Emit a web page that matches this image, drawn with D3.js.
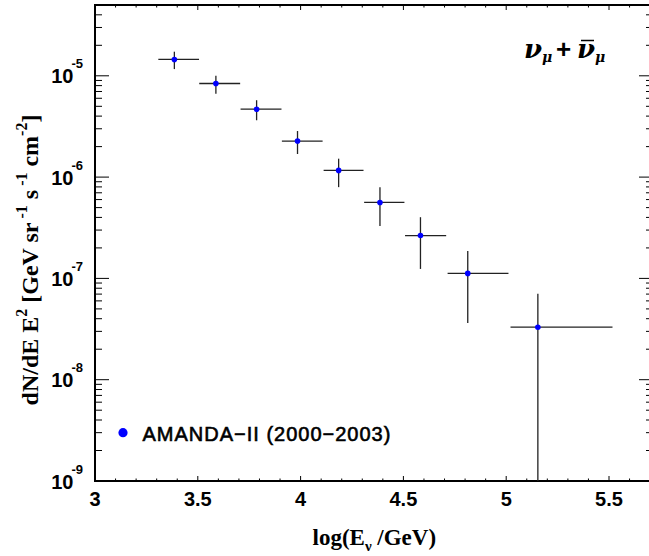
<!DOCTYPE html>
<html>
<head>
<meta charset="utf-8">
<script src="https://cdn.jsdelivr.net/npm/d3@7"></script>
<style>
  body { margin: 0; background: #fff; }
</style>
</head>
<body>
<script>
const svgWidth = 649;
const svgHeight = 556;

// log10(E/GeV) of each point and its bin edges
const logE = [3.386, 3.588, 3.786, 3.985, 4.185, 4.386, 4.583, 4.813, 5.154];
const logELow = [3.308, 3.507, 3.708, 3.909, 4.112, 4.309, 4.508, 4.715, 5.021];
const logEHigh = [3.506, 3.706, 3.907, 4.107, 4.306, 4.505, 4.708, 5.011, 5.517];

// E^2 dN/dE [GeV sr^-1 s^-1 cm^-2]
const flux = [1.45e-5, 8.4e-6, 4.68e-6, 2.27e-6, 1.165e-6, 5.62e-7, 2.65e-7, 1.12e-7, 3.3e-8];
const fluxHigh = [1.73e-5, 1.0e-5, 5.74e-6, 2.85e-6, 1.52e-6, 7.96e-7, 4.02e-7, 1.86e-7, 7.05e-8];
const fluxLow = [1.165e-5, 6.64e-6, 3.64e-6, 1.69e-6, 7.96e-7, 3.3e-7, 1.24e-7, 3.63e-8, 1e-10];

const xTickLabels = ['3', '3.5', '4', '4.5', '5', '5.5'];
const yTickExponents = [-9, -8, -7, -6, -5];
const legendLabel = 'AMANDA\u2212II (2000\u22122003)';

const plotLeft = 95, plotRight = 653, plotTop = 5, plotBottom = 481;

const svg = d3.select('body')
              .append('svg')
              .attr('width', svgWidth)
              .attr('height', svgHeight);

const x = d3.scaleLinear()
            .domain([3, 3 + (plotRight - plotLeft) / 205.6])
            .range([plotLeft, plotRight]);

const y = d3.scaleLog()
            .domain([1e-9, 5e-5])
            .range([plotBottom, plotTop])
            .clamp(true);

const points = logE.map((e, i) => ({
  e: e, lo: logELow[i], hi: logEHigh[i],
  f: flux[i], fLo: fluxLow[i], fHi: fluxHigh[i]
}));

// frame
svg.append('rect')
   .attr('x', plotLeft).attr('y', plotTop)
   .attr('width', plotRight - plotLeft).attr('height', plotBottom - plotTop)
   .attr('fill', 'none')
   .attr('stroke', '#000')
   .attr('stroke-width', 2);

// x ticks (bottom and top)
const xTicks = d3.range(30, 58).map(d => d / 10).filter(d => x(d) <= plotRight);
const isMajorX = d => Math.round(d * 10) % 5 === 0;
[plotBottom, plotTop].forEach((y0, k) => {
  svg.append('g').selectAll('line')
     .data(xTicks)
     .enter().append('line')
     .attr('x1', d => x(d)).attr('x2', d => x(d))
     .attr('y1', y0)
     .attr('y2', d => y0 + (k === 0 ? -1 : 1) * (isMajorX(d) ? 5 : 2.5))
     .attr('stroke', '#000')
     .attr('stroke-width', 1);
});

svg.append('g').selectAll('text')
   .data(xTickLabels)
   .enter().append('text')
   .attr('x', d => x(+d))
   .attr('y', 505.5)
   .attr('text-anchor', 'middle')
   .attr('font-family', 'Liberation Sans, Arial, sans-serif')
   .attr('font-weight', 'bold')
   .attr('font-size', 20)
   .text(d => d);

// y ticks (left and right)
const yTicks = y.ticks();
const isMajorY = d => Math.abs(Math.log10(d) - Math.round(Math.log10(d))) < 1e-6;
[plotLeft, plotRight].forEach((x0, k) => {
  svg.append('g').selectAll('line')
     .data(yTicks)
     .enter().append('line')
     .attr('x1', x0)
     .attr('x2', d => x0 + (k === 0 ? 1 : -1) * (isMajorY(d) ? 14 : 7))
     .attr('y1', d => y(d)).attr('y2', d => y(d))
     .attr('stroke', '#000')
     .attr('stroke-width', 1);
});

const yLabels = svg.append('g').selectAll('text')
   .data(yTickExponents)
   .enter().append('text')
   .attr('x', 83)
   .attr('y', d => y(Math.pow(10, d)) + 7.5)
   .attr('text-anchor', 'end')
   .attr('font-family', 'Liberation Sans, Arial, sans-serif')
   .attr('font-weight', 'bold');
yLabels.append('tspan').attr('font-size', 20).text('10');
yLabels.append('tspan').attr('font-size', 13).attr('dx', -2).attr('dy', -15).text(d => '-' + Math.abs(d));

// error bars
const bars = svg.append('g')
                .attr('stroke', '#222')
                .attr('stroke-width', 1.3);

bars.selectAll('.h')
    .data(points)
    .enter().append('line')
    .attr('x1', d => x(d.lo)).attr('x2', d => x(d.hi))
    .attr('y1', d => y(d.f)).attr('y2', d => y(d.f));

bars.selectAll('.v')
    .data(points)
    .enter().append('line')
    .attr('x1', d => x(d.e)).attr('x2', d => x(d.e))
    .attr('y1', d => y(d.fHi)).attr('y2', d => y(d.fLo));

svg.append('g').selectAll('circle')
   .data(points)
   .enter().append('circle')
   .attr('cx', d => x(d.e))
   .attr('cy', d => y(d.f))
   .attr('r', 2.8)
   .attr('fill', '#0000ff');

// legend
svg.append('circle')
   .attr('cx', 123).attr('cy', 432.7)
   .attr('r', 4.6)
   .attr('fill', '#0000ff');

svg.append('text')
   .attr('x', 142.5).attr('y', 440.5)
   .attr('font-family', 'Liberation Sans, Arial, sans-serif')
   .attr('font-size', 20)
   .attr('letter-spacing', 1)
   .attr('stroke', '#000')
   .attr('stroke-width', 0.6)
   .text(legendLabel);

// nu_mu + anti-nu_mu
const nu = svg.append('text')
              .attr('y', 58)
              .attr('font-family', 'DejaVu Serif, serif')
              .attr('font-style', 'italic')
              .attr('font-weight', 'bold')
              .attr('font-size', 26);
nu.append('tspan').attr('x', 524).text('\u03bd');
nu.append('tspan').attr('x', 542).attr('dy', 4).attr('font-size', 14).text('\u03bc');
nu.append('tspan').attr('x', 556).attr('dy', -4)
  .attr('font-family', 'Liberation Sans, Arial, sans-serif')
  .attr('font-style', 'normal').attr('font-size', 26).text('+');
nu.append('tspan').attr('x', 577).text('\u03bd');
nu.append('tspan').attr('x', 595).attr('dy', 4).attr('font-size', 14).text('\u03bc');

svg.append('line')
   .attr('x1', 581).attr('x2', 594)
   .attr('y1', 40.5).attr('y2', 40.5)
   .attr('stroke', '#000')
   .attr('stroke-width', 1.5);

// axis titles
const xTitle = svg.append('text')
   .attr('x', 312.5).attr('y', 545)
   .attr('font-family', 'Liberation Serif, Times New Roman, serif')
   .attr('font-weight', 'bold')
   .attr('font-size', 23);
xTitle.append('tspan').text('log(E');
xTitle.append('tspan').attr('font-size', 15).attr('dy', 6).text('\u03bd');
xTitle.append('tspan').attr('dy', -6).text(' /GeV)');

const yTitle = svg.append('text')
   .attr('transform', 'translate(38,260) rotate(-90)')
   .attr('text-anchor', 'middle')
   .attr('font-family', 'Liberation Serif, Times New Roman, serif')
   .attr('font-weight', 'bold')
   .attr('font-size', 24);
yTitle.append('tspan').text('dN/dE E');
yTitle.append('tspan').attr('font-size', 16).attr('dy', -11).text('2');
yTitle.append('tspan').attr('dy', 11).text(' [GeV sr');
yTitle.append('tspan').attr('font-size', 16).attr('dy', -11).text(' -1');
yTitle.append('tspan').attr('dy', 11).text(' s');
yTitle.append('tspan').attr('font-size', 16).attr('dy', -11).text(' -1');
yTitle.append('tspan').attr('dy', 11).text(' cm');
yTitle.append('tspan').attr('font-size', 16).attr('dy', -11).text('-2');
yTitle.append('tspan').attr('dy', 11).text(']');
</script>
</body>
</html>
